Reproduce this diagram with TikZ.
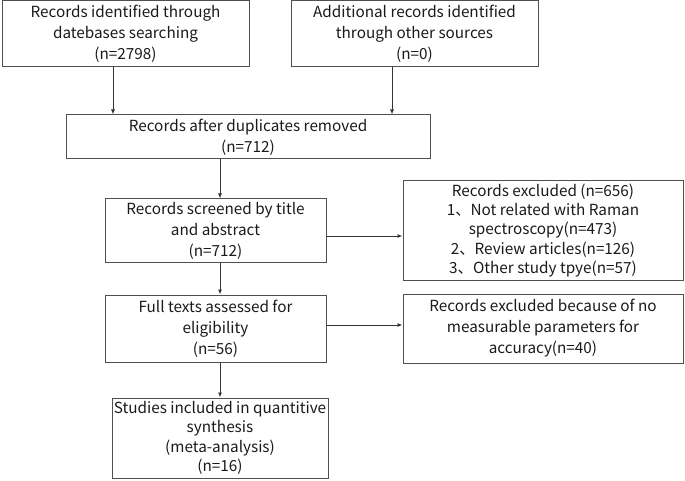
\documentclass[tikz,border=0pt]{standalone}
\usepackage{fontspec}
\setmainfont{Noto Sans CJK SC}
\usetikzlibrary{arrows.meta}
\definecolor{boxgray}{HTML}{505050}
\definecolor{arrgray}{HTML}{333333}
\definecolor{txt}{HTML}{1A1A1A}
\begin{document}
\begin{tikzpicture}[x=1pt,y=-1pt,
  box/.style={draw=boxgray, line width=1pt, align=center, inner sep=0pt,
    text=txt, font=\fontsize{15.3}{21}\selectfont},
  tight/.style={font=\fontsize{15.3}{19.3}\selectfont},
  arr/.style={draw=arrgray, line width=0.9pt, -{Latex[length=5pt,width=4pt]}}]
\useasboundingbox (0,0) rectangle (685,481);
\node[box, minimum width=247pt, minimum height=66pt] (b1) at (125.5,34)
  {Records identified through\\datebases searching\\(n=2798)};
\node[box, minimum width=247pt, minimum height=66pt] (b2) at (414.5,34)
  {Additional records identified\\through other sources\\(n=0)};
\node[box, minimum width=364pt, minimum height=44pt] (b3) at (248,137)
  {Records after duplicates removed\\(n=712)};
\node[box, minimum width=221pt, minimum height=63pt] (b4) at (215.5,230.5)
  {Records screened by title\\and abstract\\(n=712)};
\node[box, tight, minimum width=280pt, minimum height=99pt] (b5) at (543,230.5)
  {Records excluded (n=656)\\1、Not related with Raman\\spectroscopy(n=473)\\2、Review articles(n=126)\\3、Other study tpye(n=57)};
\node[box, minimum width=221pt, minimum height=67pt] (b6) at (215.5,328.5)
  {Full texts assessed for\\eligibility\\(n=56)};
\node[box, minimum width=280pt, minimum height=69pt] (b7) at (543,328.5)
  {Records excluded because of no\\measurable parameters for\\accuracy(n=40)};
\node[box, tight, minimum width=216pt, minimum height=80pt] (b8) at (220,438)
  {Studies included in quantitive\\synthesis\\(meta-analysis)\\(n=16)};
\coordinate (xa) at (113,0);
\coordinate (xb) at (392,0);
\coordinate (xc) at (220,0);
\coordinate (ya) at (0,236);
\coordinate (yb) at (0,325);
\draw[arr] (xa |- b1.south) -- (xa |- b3.north);
\draw[arr] (xb |- b2.south) -- (xb |- b3.north);
\draw[arr] (xc |- b3.south) -- (xc |- b4.north);
\draw[arr] (b4.east |- ya) -- (b5.west |- ya);
\draw[arr] (xc |- b4.south) -- (xc |- b6.north);
\draw[arr] (b6.east |- yb) -- (b7.west |- yb);
\draw[arr] (xc |- b6.south) -- (xc |- b8.north);
\end{tikzpicture}
\end{document}
